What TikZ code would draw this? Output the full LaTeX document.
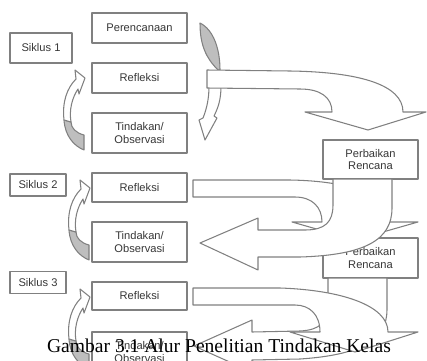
\documentclass[tikz,border=0pt]{standalone}
\usepackage{fontspec}
\setmainfont{Liberation Sans}
\newfontfamily\capfont{Liberation Serif}
\usepackage{tikz}
\usetikzlibrary{positioning}

\definecolor{linegray}{RGB}{128,128,128}
\definecolor{textgray}{RGB}{55,55,55}
\definecolor{backgray}{RGB}{190,190,190}

\begin{document}
\begin{tikzpicture}[x=0.03cm, y=-0.03cm, line join=round, font=\fontsize{9.5}{11}\selectfont, text=textgray]
	\tikzstyle{box} = [draw=linegray, line width=0.9pt, fill=white, rectangle, minimum width=2.85cm, align=center, inner sep=0pt]
	\tikzstyle{cyc} = [box, minimum width=1.68cm, minimum height=0.66cm]
	\tikzstyle{blk} = [draw=linegray, line width=0.9pt, fill=white]
	\tikzstyle{shade} = [draw=linegray, line width=0.9pt, fill=backgray]

	\path[use as bounding box] (0,0) rectangle (427,360);
	\clip (0,0) rectangle (427,360);

	\node[cyc, minimum width=1.86cm, minimum height=0.9cm]	at (41,48)	(s1)	{Siklus 1};
	\node[cyc]			at (38,185)		(s2)	{Siklus 2};
	\node[cyc]			at (38,282.5)	(s3)	{Siklus 3};
	\node[box, minimum height=0.9cm]	at (139.5,28)	(p1)	{Perencanaan};
	\node[box, minimum height=0.9cm]	at (139.5,78)	(r1)	{Refleksi};
	\node[box, minimum height=1.2cm]	at (139.5,133)	(t1)	{Tindakan/\\Observasi};
	\node[box, minimum height=0.87cm]	at (139.5,187.5)	(r2)	{Refleksi};
	\node[box, minimum height=1.2cm]	at (139.5,242)	(t2)	{Tindakan/\\Observasi};
	\node[box, minimum height=0.84cm]	at (139.5,296)	(r3)	{Refleksi};
	\node[box, minimum height=1.2cm]	at (139.5,352)	(t3)	{Tindakan/\\Observasi};
	\node[box, minimum height=1.17cm]	at (370.5,159.5)	(b1)	{Perbaikan\\Rencana};
	\node[box, minimum height=1.2cm]	at (370.5,258)	(b2)	{Perbaikan\\Rencana};

	% siklus 1: perencanaan -> tindakan, refleksi -> perbaikan
	\draw[shade] (200,23) .. controls (214,30) and (220,50) .. (220,70) -- (218,70) .. controls (206,58) and (200,45) .. (200,23) -- cycle;
	\draw[blk] (221,86) .. controls (221,100) and (218,108) .. (214,116) -- (217,118) -- (205,140) -- (199,120) -- (203,118) .. controls (207,108) and (209,98) .. (209,86) -- cycle;
	\draw[blk] (207,70) -- (290,71) .. controls (360,72) and (403,85) .. (403,112) -- (426,112) -- (368,130) -- (305,112) -- (332,112) .. controls (332,97) and (320,89) .. (300,89) -- (207,88) -- cycle;

	% tindakan -> refleksi
	\foreach \dx/\r in {0/78, 5/188, 5/297} {
		\begin{scope}[shift={(\dx,\r)}]
			\draw[shade] (64,42) .. controls (65,58) and (74,68) .. (84,72) -- (84,57) .. controls (76,55) and (71,50) .. (71,44) -- cycle;
			\draw[blk] (64,42) .. controls (62,24) and (67,10) .. (76,1) -- (75,-8) -- (85,0) -- (79,16) -- (78,11) .. controls (72,20) and (69,32) .. (71,44) -- cycle;
		\end{scope}
	}

	% siklus 2
	\draw[blk] (193,180) -- (290,180) .. controls (350,181) and (390,195) .. (390,222) -- (418,222) -- (355,240) -- (292,222) -- (322,222) .. controls (322,207) and (312,197) .. (295,197) -- (193,197) -- cycle;
	\draw[blk] (333,179) -- (333,205) .. controls (333,222) and (325,230) .. (305,230) -- (258,230) -- (258,218) -- (200,243) -- (258,270) -- (258,257) -- (300,257) .. controls (365,255) and (392,240) .. (392,208) -- (392,179) -- cycle;

	% siklus 3
	\draw[blk] (328,278) -- (328,305) .. controls (328,322) and (320,330) .. (300,331) -- (252,332) -- (252,320) -- (194,346) -- (252,372) -- (252,360) -- (300,359) .. controls (360,355) and (387,340) .. (387,310) -- (387,278) -- cycle;
	\draw[blk] (193,288) -- (280,288) .. controls (340,290) and (388,305) .. (388,332) -- (418,332) -- (355,352) -- (290,332) -- (320,332) .. controls (320,315) and (310,305) .. (295,305) -- (193,305) -- cycle;

	\node[anchor=base, text=black, font=\capfont\fontsize{16.7}{18}\selectfont]	at (219,352)	(cap)	{Gambar 3.1 Alur Penelitian Tindakan Kelas};
\end{tikzpicture}
\end{document}
